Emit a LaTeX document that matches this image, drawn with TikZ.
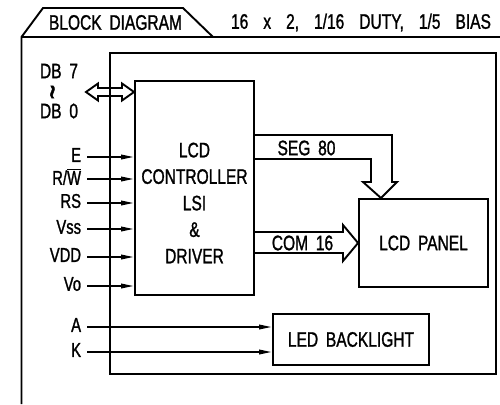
\documentclass[tikz,border=0pt]{standalone}
\usepackage{fontspec}
\setmainfont{Liberation Sans}[FakeStretch=0.74,WordSpace=1.8,FakeBold=1.2]
\usetikzlibrary{arrows.meta,calc}
\begin{document}
\begin{tikzpicture}[x=1pt,y=-1pt,line width=1.9pt,line join=miter,
 box/.style={draw,line width=1.9pt,inner sep=0pt,font=\fontsize{21}{25}\selectfont},
 txt/.style={inner sep=0pt,font=\fontsize{21}{25}\selectfont},
 lbl/.style={inner sep=0pt,font=\fontsize{20}{24}\selectfont,anchor=east},
 inarr/.style={line width=1.9pt,-{Triangle[length=13pt,width=4.5pt]}}]
\useasboundingbox (0,0) rectangle (500,404);
% outer frame with tab
\draw (21.5,404) -- (21.5,37) -- (43,8) -- (183,8) -- (213,37);
\draw (21.5,37) -- (500,37);
\node[txt] (title) at (115.5,22.5) {BLOCK DIAGRAM};
\node[txt] (spec) at (361,22.5) {\spaceskip=15pt 16 x 2, 1/16 DUTY, 1/5 BIAS};
% module and blocks
\node[box,minimum width=386pt,minimum height=321pt] (module) at (303,213.5) {};
\node[box,minimum width=119pt,minimum height=214pt] (ctrl) at (194.5,188) {};
\node[txt,align=center,font=\fontsize{21}{26.5}\selectfont] (ctrltext) at (194.5,203) {LCD\\CONTROLLER\\LSI\\\&\\DRIVER};
\node[box,minimum width=129pt,minimum height=88pt] (panel) at (423.5,243) {LCD PANEL};
\node[box,minimum width=156pt,minimum height=51pt] (led) at (351,339.5) {LED BACKLIGHT};
% data bus
\node[txt] (db7) at (59,71) {DB 7};
\node[txt,rotate=90,font=\fontsize{34}{34}\selectfont] (dbto) at (57,92) {\textasciitilde};
\node[txt] (db0) at (59,111) {DB 0};
\coordinate (dbL) at (86,92);
\draw (dbL) -- (98,83.5) -- (98,88) -- (122,88) -- (122,83.5) -- (ctrl.west |- dbL) -- (122,100.5) -- (122,96) -- (98,96) -- (98,100.5) -- cycle;
% control inputs
\coordinate (sE) at (87,157);
\coordinate (sRW) at (87,179);
\coordinate (sRS) at (87,203);
\coordinate (sVss) at (87,229);
\coordinate (sVdd) at (87,257);
\coordinate (sVo) at (87,286);
\coordinate (sA) at (87,327);
\coordinate (sK) at (87,352);
\node[lbl] (lE) at ([xshift=-5pt,yshift=2pt]sE) {E};
\node[lbl] (lRW) at ([xshift=-5pt,yshift=2pt]sRW) {R/$\overline{\hbox{W}}$};
\node[lbl] (lRS) at ([xshift=-5pt,yshift=2pt]sRS) {RS};
\node[lbl] (lVss) at ([xshift=-5pt,yshift=2pt]sVss) {Vss};
\node[lbl] (lVdd) at ([xshift=-5pt,yshift=2pt]sVdd) {VDD};
\node[lbl] (lVo) at ([xshift=-5pt,yshift=2pt]sVo) {Vo};
\node[lbl] (lA) at ([xshift=-5pt,yshift=2pt]sA) {A};
\node[lbl] (lK) at ([xshift=-5pt,yshift=2pt]sK) {K};
\foreach \s in {sE,sRW,sRS,sVss,sVdd,sVo}
  \draw[inarr] (\s) -- (\s -| ctrl.west);
\foreach \s in {sA,sK}
  \draw[inarr] (\s) -- (\s -| led.west);
% SEG 80 arrow
\coordinate (segA) at (392,135);
\coordinate (segB) at (371,159);
\coordinate (segX) at (381,0);
\draw (ctrl.east |- segA) -- (segA) -- (392,182) -- (397,182) -- (segX |- panel.north) -- (363,182) -- (371,182) -- (segB) -- (ctrl.east |- segB);
\node[txt] (seg) at (306.5,148) {SEG 80};
% COM 16 arrow
\coordinate (comA) at (343,232);
\coordinate (comB) at (343,253);
\draw (ctrl.east |- comA) -- (comA) -- (343,225) -- (panel.west) -- (343,261) -- (comB) -- (ctrl.east |- comB);
\node[txt] (com) at (302.5,243) {COM 16};
\end{tikzpicture}
\end{document}
